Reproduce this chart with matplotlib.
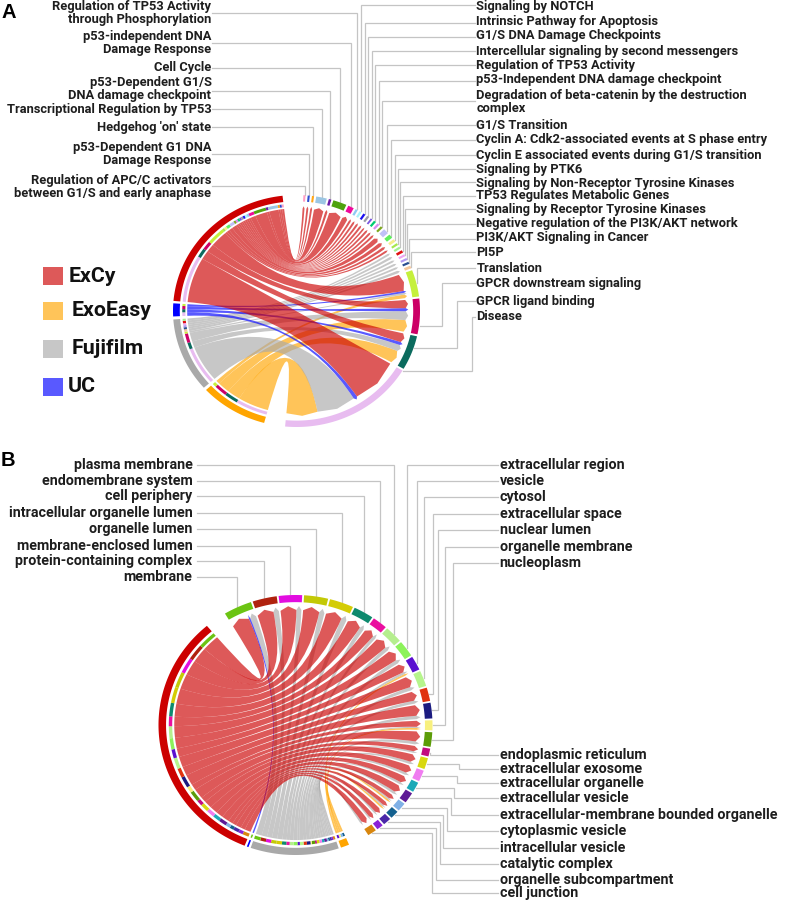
import numpy as np
import matplotlib
matplotlib.use('Agg')
import matplotlib.pyplot as plt
from matplotlib.path import Path
from matplotlib.patches import PathPatch, Polygon, Rectangle

plt.rcParams['font.family'] = ['Roboto', 'DejaVu Sans']

#%% Data panel A (ribbon widths per term)
set_names = ['ExCy', 'UC', 'Fujifilm', 'ExoEasy']

a_terms = ['Regulation of APC/C activators\nbetween G1/S and early anaphase',
           'p53-Dependent G1 DNA\nDamage Response', "Hedgehog 'on' state",
           'Transcriptional Regulation by TP53', 'p53-Dependent G1/S\nDNA damage checkpoint',
           'Cell Cycle', 'p53-independent DNA\nDamage Response',
           'Regulation of TP53 Activity\nthrough Phosphorylation',
           'Signaling by NOTCH', 'Intrinsic Pathway for Apoptosis', 'G1/S DNA Damage Checkpoints',
           'Intercellular signaling by second messengers', 'Regulation of TP53 Activity',
           'p53-Independent DNA damage checkpoint',
           'Degradation of beta-catenin by the destruction\ncomplex', 'G1/S Transition',
           'Cyclin A: Cdk2-associated events at S phase entry',
           'Cyclin E associated events during G1/S transition', 'Signaling by PTK6',
           'Signaling by Non-Receptor Tyrosine Kinases', 'TP53 Regulates Metabolic Genes',
           'Signaling by Receptor Tyrosine Kinases', 'Negative regulation of the PI3K/AKT network',
           'PI3K/AKT Signaling in Cancer', 'PI5P', 'Translation', 'GPCR downstream signaling',
           'GPCR ligand binding', 'Disease']
a_excy = [1, 1, 1, 5, 1.2, 6.4, 2.8, 1.1, 1.1, 1.1, 1.1, 0.9, 1.1, 1.1, 1.1, 2.6, 2, 1.4, 1.1,
          0, 0, 0, 0, 0, 0, 9.3, 4.6, 5, 25.5]
a_uc = [0] * 25 + [1.1, 1.7, 1.7, 2]
a_fuji = [0] * 19 + [1.1, 1.3, 1.1, 1.1, 1.1, 1.4, 1, 5, 3.6, 20.5]
a_exo = [0] * 25 + [2, 6.5, 7, 16.4]
a_colors = ['#FF9EC4', '#2E4BD0', '#FFA616', '#9CC6E3', '#6A1BA8', '#4FA30E', '#EE0A9B', '#8FC8F5',
            '#A9F3F8', '#1B10F0', '#999AA8', '#7A55E0', '#00CC70', '#D98AF0', '#7EA81E', '#C0C0F8',
            '#5FEE5F', '#F5EC8C', '#A6E84C', '#A0F090', '#E01010', '#EEA6F0', '#B39AF0', '#2A4E90',
            '#F5C79C', '#C5F03C', '#CC0066', '#0B6B5E', '#E8BCF0']

#%% Data panel B
b_terms = ['membrane', 'protein-containing complex', 'membrane-enclosed lumen', 'organelle lumen',
           'intracellular organelle lumen', 'cell periphery', 'endomembrane system', 'plasma membrane',
           'extracellular region', 'vesicle', 'cytosol', 'extracellular space', 'nuclear lumen',
           'organelle membrane', 'nucleoplasm', 'endoplasmic reticulum', 'extracellular exosome',
           'extracellular organelle', 'extracellular vesicle',
           'extracellular-membrane bounded organelle', 'cytoplasmic vesicle', 'intracellular vesicle',
           'catalytic complex', 'organelle subcompartment', 'cell junction']
b_excy = [8.4, 7.7, 7.5, 7.7, 7.7, 6.5, 4.8, 5.8, 5.4, 4.3, 5.3, 4.5, 5.3, 3.0, 5.0, 2.7, 3.8, 3.8,
          3.4, 3.6, 2.2, 1.9, 2.6, 2.1, 2.9]
b_uc = [0.7] + [0] * 24
b_fuji = [2.9, 2.6, 2.4, 2.5, 2.5, 2.0, 1.5, 1.8, 1.8, 1.1, 1.7, 1.5, 1.7, 0.6, 1.5, 0.8, 1.2, 1.2,
          1.1, 1.2, 0.7, 0.8, 0.8, 0.7, 0.9]
b_exo = [0, 0, 0, 0, 0, 0, 0, 0, 0, 0.9, 0, 0, 0, 0.9, 0, 0, 0, 0, 0, 0, 0.9, 0.9, 0, 0, 0]
b_colors = ['#6CC413', '#B0220E', '#E20DE0', '#C3C906', '#D4CC05', '#0E8A6E', '#EA10A0', '#B5EE8E',
            '#8CF25A', '#5A10D0', '#B6F58C', '#E0330F', '#1B1B80', '#F8F07E', '#5C9C08', '#C20A80',
            '#D8D810', '#F07CF0', '#1CA8B8', '#5E1A96', '#7FB0E6', '#14608E', '#4A28A8', '#8A22D8',
            '#D8860E']

set_colors = {'ExCy': '#CC0000', 'ExoEasy': '#FFA500', 'Fujifilm': '#A9A9A9', 'UC': '#0000FF'}
ribbon_alpha = 0.65
line_col = '#C4C4C4'
text_col = '#1E1E1E'

#%% Layout of the two panels and their labels (pixels)
a_geom = dict(cx=296.5, cy=311, rx=123.5, ry=116, term_start=3.2, term_gap=1.0,
              set_start=195.2, set_gaps=[1.5, 1.5, 1.2], r_tip=0.905, r_edge=0.885)
b_geom = dict(cx=295.5, cy=725, rx=137, ry=130, term_start=329, term_gap=0.8,
              set_start=157, set_gaps=[1, 1, 1], r_tip=0.915, r_edge=0.885)

# label y per term, leader y, side; None elbow means the leader drops straight on the ring
a_text_y = [187, 154, 128, 110, 89, 68, 43, 13, 6.5, 22, 36, 51, 65, 80, 102, 125, 140, 155, 169, 183,
            196, 209, 223, 238, 252, 268, 283, 301, 317]
a_line_y = [186, 154, 127, 109, 91, 68, 43, 13, 5, 22.7, 37, 51, 65, 81, 101, 125, 140, 155, 169, 182,
            196, 209, 224, 239, 252, 268, 283, 301, 317]
a_elbow = {26: 442, 27: 457, 28: 472}
a_attach = {26: 0.75, 27: 0.35, 28: 0.0}

b_text_y = [577, 561, 546, 529, 513, 496, 480.5, 465, 465, 481, 497, 514, 530, 547, 563, 755, 769,
            783, 798, 815, 831, 848, 864, 880, 892.5]
b_elbow = {11: 432.7, 12: 438, 13: 445, 14: 453, 16: 459, 17: 457, 18: 454, 19: 451, 20: 447, 21: 443,
           22: 440, 23: 436, 24: 432}


fig = plt.figure(figsize=(7.86, 9.0), dpi=100)
ax = fig.add_axes([0, 0, 1, 1])
ax.set_xlim(0, 786)
ax.set_ylim(900, 0)
ax.axis('off')


def xy(g, r, deg):
    t = np.radians(deg)
    return g['cx'] + g['rx'] * r * np.sin(t), g['cy'] - g['ry'] * r * np.cos(t)


def band(g, r0, r1, a0, a1, col, z=3):
    aa = np.linspace(a0, a1, max(int(a1 - a0) * 2, 3))
    pts = [xy(g, r1, a) for a in aa] + [xy(g, r0, a) for a in aa[::-1]]
    ax.add_patch(Polygon(pts, closed=True, fc=col, ec='none', zorder=z))


def ribbon(g, s0, s1, t0, t1, col):
    centre = (g['cx'], g['cy'])
    aa = np.linspace(s0, s1, max(int(s1 - s0) * 2, 3))
    verts = [xy(g, g['r_edge'], a) for a in aa]
    codes = [Path.MOVETO] + [Path.LINETO] * (len(aa) - 1)
    verts += [centre, xy(g, g['r_edge'], t0)]
    codes += [Path.CURVE3, Path.CURVE3]
    verts += [xy(g, g['r_tip'], (t0 + t1) / 2), xy(g, g['r_edge'], t1)]
    codes += [Path.LINETO, Path.LINETO]
    verts += [centre, xy(g, g['r_edge'], s0)]
    codes += [Path.CURVE3, Path.CURVE3]
    ax.add_patch(PathPatch(Path(verts, codes), fc=col, ec='none', alpha=ribbon_alpha, zorder=2))


def chord(g, terms, colors, excy, uc, fuji, exo):
    vals = {'ExCy': excy, 'UC': uc, 'Fujifilm': fuji, 'ExoEasy': exo}

    # term side, clockwise: ExCy, UC, Fujifilm, ExoEasy
    t_pos = {}
    spans = []
    a = g['term_start']
    for i in range(len(terms)):
        start = a
        for s in set_names:
            t_pos[(s, i)] = (a, a + vals[s][i])
            a += vals[s][i]
        band(g, 0.945, 1.0, start, a, colors[i])
        spans.append((start, a))
        a += g['term_gap']

    # set side, clockwise around the circle and terms in reverse order
    a = g['set_start']
    for s, gap in zip(['ExoEasy', 'Fujifilm', 'UC', 'ExCy'], g['set_gaps'] + [0]):
        band(g, 0.945, 1.0, a, a + sum(vals[s]), set_colors[s])
        for i in range(len(terms) - 1, -1, -1):
            v = vals[s][i]
            if v == 0:
                continue
            band(g, 0.90, 0.925, a, a + v, colors[i])
            ribbon(g, a, a + v, t_pos[(s, i)][0], t_pos[(s, i)][1], set_colors[s])
            a += v
        a += gap
    return spans


def leader(g, span, frac, lx, ly, elbow):
    px, py = xy(g, 1.005, span[0] + frac * (span[1] - span[0]))
    ex = px if elbow is None else elbow
    ax.plot([lx, ex, ex, px], [ly, ly, py, py], color=line_col, lw=0.9, zorder=1,
            solid_joinstyle='miter')


#%% Panel A
spans = chord(a_geom, a_terms, a_colors, a_excy, a_uc, a_fuji, a_exo)
for i, t in enumerate(a_terms):
    left = i < 8
    lx = 212 if left else 475
    leader(a_geom, spans[i], a_attach.get(i, 0.5), lx, a_line_y[i], a_elbow.get(i))
    ax.text(211.5 if left else 476.5, a_text_y[i], t, ha='right' if left else 'left', va='center',
            fontsize=9.3, fontweight='bold', color=text_col, linespacing=1.0, zorder=5)

#%% Panel B
spans = chord(b_geom, b_terms, b_colors, b_excy, b_uc, b_fuji, b_exo)
for i, t in enumerate(b_terms):
    left = i < 8
    lx = 197 if left else 498
    leader(b_geom, spans[i], 0.5, lx, b_text_y[i], b_elbow.get(i))
    ax.text(192.5 if left else 499.5, b_text_y[i], t, ha='right' if left else 'left', va='center',
            fontsize=10.25, fontweight='bold', color=text_col, zorder=5)

#%% Legend and panel letters
legend_y = [267, 302, 340, 378]
legend_tx = [69, 72, 72, 68]
for s, y, tx in zip(['ExCy', 'ExoEasy', 'Fujifilm', 'UC'], legend_y, legend_tx):
    ax.add_patch(Rectangle((43, y), 20, 18, fc=set_colors[s], alpha=ribbon_alpha, ec='none'))
    ax.text(tx, y + 9, s, va='center', ha='left', fontsize=15.3, fontweight='bold', color='#111111')

ax.text(1, 13, 'A', fontsize=14.5, fontweight='bold', va='center', family='Liberation Sans')
ax.text(1, 461, 'B', fontsize=14.5, fontweight='bold', va='center', family='Liberation Sans')

fig.savefig('out.png', dpi=100)
